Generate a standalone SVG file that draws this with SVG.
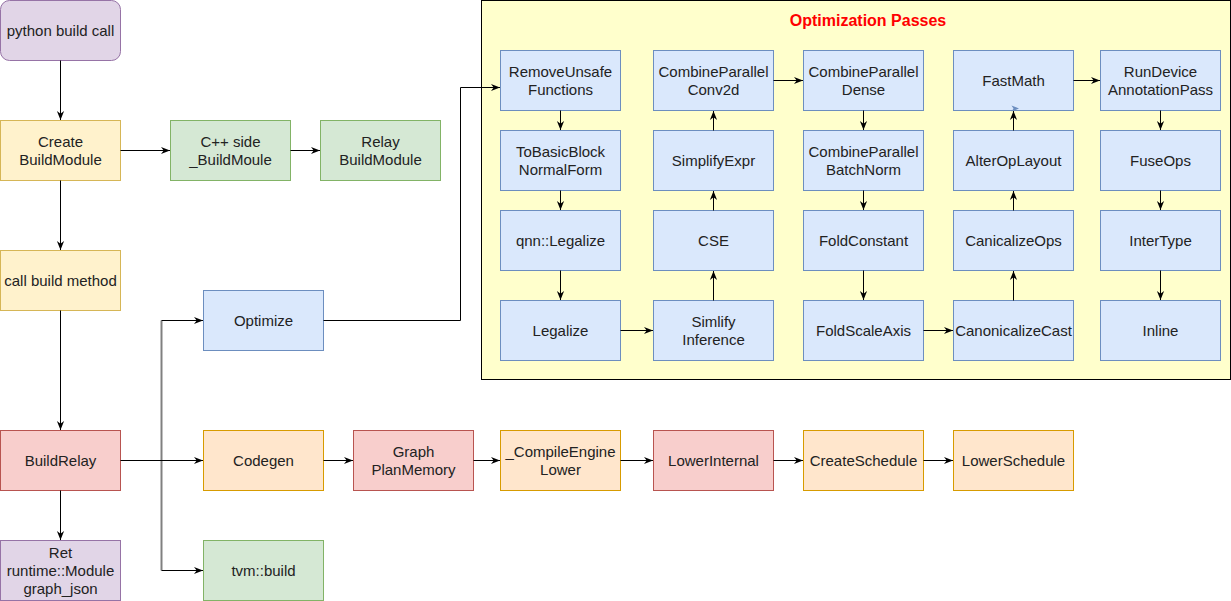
<svg xmlns="http://www.w3.org/2000/svg" width="1231" height="601" viewBox="0 0 1231 601">
<defs>
<marker id="ah" markerUnits="userSpaceOnUse" viewBox="0 0 10 10" refX="10" refY="5" markerWidth="9" markerHeight="9" orient="auto">
<path d="M0,1 L10,5 L0,9 L3,5 Z" fill="#000"/>
</marker>
<style>
text{font-family:"Liberation Sans",Arial,sans-serif;font-size:15px;fill:#222;text-anchor:middle}
.title{font-size:16px;font-weight:bold;fill:#ff0000}
.purple{fill:#e1d5e7;stroke:#9673a6}
.yellow{fill:#fff2cc;stroke:#d6b656}
.green{fill:#d5e8d4;stroke:#82b366}
.blue{fill:#dae8fc;stroke:#6c8ebf}
.orange{fill:#ffe6cc;stroke:#d79b00}
.red{fill:#f8cecc;stroke:#b85450}
.c{fill:none;stroke:#000;stroke-width:1;marker-end:url(#ah)}
.g{fill:none;stroke:#808080;stroke-width:2}
</style>
</defs>
<rect width="1231" height="601" fill="#fff"/>
<g id="optimization-passes">
<rect x="481.5" y="0.5" width="749" height="379" fill="#ffffcc" stroke="#000"/>
<text class="title" x="868" y="26">Optimization Passes</text>
</g>
<g id="python-build-call"><rect class="purple" x="0.5" y="0.5" width="120" height="60" rx="9"/><text x="60.5" y="36">python build call</text></g>
<g id="create-buildmodule"><rect class="yellow" x="0.5" y="120.5" width="120" height="60"/><text x="60.5" y="147">Create</text><text x="60.5" y="165">BuildModule</text></g>
<g id="cpp-side"><rect class="green" x="170.5" y="120.5" width="120" height="60"/><text x="230.5" y="147">C++ side</text><text x="230.5" y="165">_BuildMoule</text></g>
<g id="relay-buildmodule"><rect class="green" x="320.5" y="120.5" width="120" height="60"/><text x="380.5" y="147">Relay</text><text x="380.5" y="165">BuildModule</text></g>
<g id="call-build-method"><rect class="yellow" x="0.5" y="250.5" width="120" height="60"/><text x="60.5" y="286">call build method</text></g>
<g id="buildrelay"><rect class="red" x="0.5" y="430.5" width="120" height="60"/><text x="60.5" y="466">BuildRelay</text></g>
<g id="ret"><rect class="purple" x="0.5" y="540.5" width="120" height="60"/><text x="60.5" y="558">Ret</text><text x="60.5" y="576">runtime::Module</text><text x="60.5" y="594">graph_json</text></g>
<g id="optimize"><rect class="blue" x="203.5" y="290.5" width="120" height="60"/><text x="263.5" y="326">Optimize</text></g>
<g id="codegen"><rect class="orange" x="203.5" y="430.5" width="120" height="60"/><text x="263.5" y="466">Codegen</text></g>
<g id="tvm-build"><rect class="green" x="203.5" y="540.5" width="120" height="60"/><text x="263.5" y="576">tvm::build</text></g>
<g id="graph-planmemory"><rect class="red" x="353.5" y="430.5" width="120" height="60"/><text x="413.5" y="457">Graph</text><text x="413.5" y="475">PlanMemory</text></g>
<g id="compileengine-lower"><rect class="orange" x="500.5" y="430.5" width="120" height="60"/><text x="560.5" y="457">_CompileEngine</text><text x="560.5" y="475">Lower</text></g>
<g id="lowerinternal"><rect class="red" x="653.5" y="430.5" width="120" height="60"/><text x="713.5" y="466">LowerInternal</text></g>
<g id="createschedule"><rect class="orange" x="803.5" y="430.5" width="120" height="60"/><text x="863.5" y="466">CreateSchedule</text></g>
<g id="lowerschedule"><rect class="orange" x="953.5" y="430.5" width="120" height="60"/><text x="1013.5" y="466">LowerSchedule</text></g>
<g id="removeunsafe"><rect class="blue" x="500.5" y="50.5" width="120" height="60"/><text x="560.5" y="77">RemoveUnsafe</text><text x="560.5" y="95">Functions</text></g>
<g id="tobasicblock"><rect class="blue" x="500.5" y="130.5" width="120" height="60"/><text x="560.5" y="157">ToBasicBlock</text><text x="560.5" y="175">NormalForm</text></g>
<g id="qnn-legalize"><rect class="blue" x="500.5" y="210.5" width="120" height="60"/><text x="560.5" y="246">qnn::Legalize</text></g>
<g id="legalize"><rect class="blue" x="500.5" y="300.5" width="120" height="60"/><text x="560.5" y="336">Legalize</text></g>
<g id="conv2d"><rect class="blue" x="653.5" y="50.5" width="120" height="60"/><text x="713.5" y="77">CombineParallel</text><text x="713.5" y="95">Conv2d</text></g>
<g id="simplifyexpr"><rect class="blue" x="653.5" y="130.5" width="120" height="60"/><text x="713.5" y="166">SimplifyExpr</text></g>
<g id="cse"><rect class="blue" x="653.5" y="210.5" width="120" height="60"/><text x="713.5" y="246">CSE</text></g>
<g id="simlify-inference"><rect class="blue" x="653.5" y="300.5" width="120" height="60"/><text x="713.5" y="327">Simlify</text><text x="713.5" y="345">Inference</text></g>
<g id="dense"><rect class="blue" x="803.5" y="50.5" width="120" height="60"/><text x="863.5" y="77">CombineParallel</text><text x="863.5" y="95">Dense</text></g>
<g id="batchnorm"><rect class="blue" x="803.5" y="130.5" width="120" height="60"/><text x="863.5" y="157">CombineParallel</text><text x="863.5" y="175">BatchNorm</text></g>
<g id="foldconstant"><rect class="blue" x="803.5" y="210.5" width="120" height="60"/><text x="863.5" y="246">FoldConstant</text></g>
<g id="foldscaleaxis"><rect class="blue" x="803.5" y="300.5" width="120" height="60"/><text x="863.5" y="336">FoldScaleAxis</text></g>
<g id="fastmath"><rect class="blue" x="953.5" y="50.5" width="120" height="60"/><text x="1013.5" y="86">FastMath</text></g>
<g id="alteroplayout"><rect class="blue" x="953.5" y="130.5" width="120" height="60"/><text x="1013.5" y="166">AlterOpLayout</text></g>
<g id="canicalizeops"><rect class="blue" x="953.5" y="210.5" width="120" height="60"/><text x="1013.5" y="246">CanicalizeOps</text></g>
<g id="canonicalizecast"><rect class="blue" x="953.5" y="300.5" width="120" height="60"/><text x="1013.5" y="336">CanonicalizeCast</text></g>
<g id="rundevice"><rect class="blue" x="1100.5" y="50.5" width="120" height="60"/><text x="1160.5" y="77">RunDevice</text><text x="1160.5" y="95">AnnotationPass</text></g>
<g id="fuseops"><rect class="blue" x="1100.5" y="130.5" width="120" height="60"/><text x="1160.5" y="166">FuseOps</text></g>
<g id="intertype"><rect class="blue" x="1100.5" y="210.5" width="120" height="60"/><text x="1160.5" y="246">InterType</text></g>
<g id="inline"><rect class="blue" x="1100.5" y="300.5" width="120" height="60"/><text x="1160.5" y="336">Inline</text></g>
<g id="connectors">
<path class="c" d="M60.5,60.5 V120"/>
<path class="c" d="M120.5,150.5 H170"/>
<path class="c" d="M290.5,150.5 H320"/>
<path class="c" d="M60.5,180.5 V250"/>
<path class="c" d="M60.5,310.5 V430"/>
<path class="c" d="M60.5,490.5 V540"/>
<path class="g" d="M161.5,320.5 V570.5"/>
<path class="c" d="M120.5,460.5 H203"/>
<path class="c" d="M161.5,320.5 H203"/>
<path class="c" d="M161.5,570.5 H203"/>
<path class="c" d="M323.5,320.5 H460.5 V87.5 H500"/>
<path class="c" d="M323.5,460.5 H353"/>
<path class="c" d="M473.5,460.5 H500"/>
<path class="c" d="M620.5,460.5 H653"/>
<path class="c" d="M773.5,460.5 H803"/>
<path class="c" d="M923.5,460.5 H953"/>
<path class="c" d="M560.5,110.5 V130"/>
<path class="c" d="M560.5,190.5 V210"/>
<path class="c" d="M560.5,270.5 V300"/>
<path class="c" d="M620.5,330.5 H653"/>
<path class="c" d="M713.5,300.5 V271"/>
<path class="c" d="M713.5,210.5 V191"/>
<path class="c" d="M713.5,130.5 V111"/>
<path class="c" d="M773.5,80.5 H803"/>
<path class="c" d="M863.5,110.5 V130"/>
<path class="c" d="M863.5,190.5 V210"/>
<path class="c" d="M863.5,270.5 V300"/>
<path class="c" d="M923.5,330.5 H953"/>
<path class="c" d="M1013.5,300.5 V271"/>
<path class="c" d="M1013.5,210.5 V191"/>
<path class="c" d="M1013.5,130.5 V111"/>
<path class="c" d="M1073.5,80.5 H1100"/>
<path class="c" d="M1160.5,110.5 V130"/>
<path class="c" d="M1160.5,190.5 V210"/>
<path class="c" d="M1160.5,270.5 V300"/>
<path d="M1011.5,105.5 L1019,108.5 L1011.5,111.5 L1013.5,108.5 Z" fill="#6c8ebf"/>
</g>
</svg>
